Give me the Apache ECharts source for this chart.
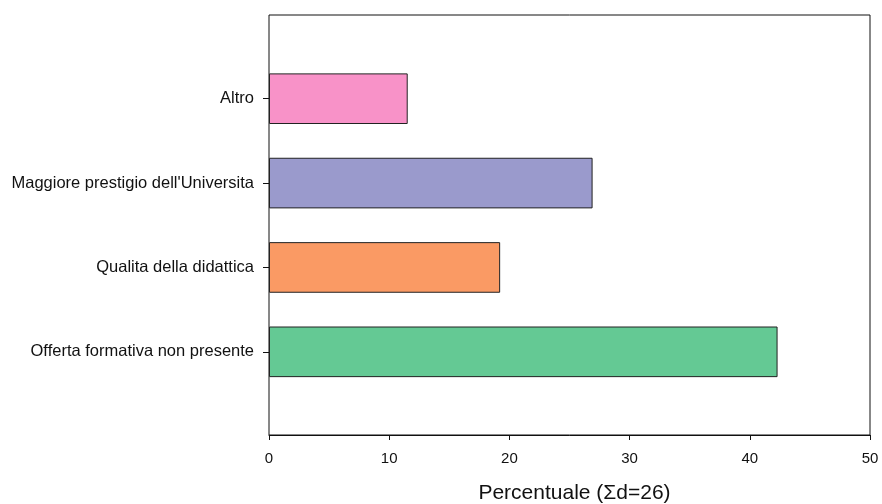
<!DOCTYPE html>
<html>
<head>
<meta charset="utf-8">
<script src="https://cdn.jsdelivr.net/npm/echarts@6/dist/echarts.min.js"></script>
<style>
html,body{margin:0;padding:0;background:#fff;}
#chart{width:882px;height:504px;}
</style>
</head>
<body>
<div id="chart"></div>
<script>
// Data (top to bottom as shown)
var categories = ['Altro', "Maggiore prestigio dell'Universita", 'Qualita della didattica', 'Offerta formativa non presente'];
var values = [11.54, 26.92, 19.23, 42.31];
var barColors = ['#F892C8', '#9A9ACC', '#FA9A64', '#64C994'];
var xTicks = [0, 10, 20, 30, 40, 50];
var xTitle = 'Percentuale (\u03A3d=26)';

var font = 'Liberation Sans, Arial, Helvetica, sans-serif';
var chart = echarts.init(document.getElementById('chart'), null, {renderer: 'canvas'});

var seriesData = values.map(function (v, i) {
  return {value: v, itemStyle: {color: barColors[i]}};
});

chart.setOption({
  backgroundColor: '#fff',
  animation: false,
  grid: [
    {left: 269, right: 12, top: 15, bottom: 69, show: true, borderColor: '#111', borderWidth: 1, backgroundColor: 'transparent', containLabel: false, outerBoundsMode: 'none'},
    {left: 269, right: 12, top: 56.5, bottom: 110, containLabel: false, outerBoundsMode: 'none'}
  ],
  xAxis: [
    {
      gridIndex: 0, type: 'value', min: xTicks[0], max: xTicks[xTicks.length - 1], interval: 10,
      axisLine: {show: true, lineStyle: {color: '#111', width: 1}},
      axisTick: {show: true, length: 5, lineStyle: {color: '#111'}},
      axisLabel: {show: true, fontFamily: font, fontSize: 15, color: '#111', margin: 16},
      splitLine: {show: false},
      name: xTitle, nameLocation: 'middle', nameGap: 48,
      nameTextStyle: {fontFamily: font, fontSize: 21, color: '#111', padding: [0, 0, 0, 10]}
    },
    {
      gridIndex: 1, type: 'value', min: xTicks[0], max: xTicks[xTicks.length - 1],
      show: false
    }
  ],
  yAxis: [
    {gridIndex: 0, type: 'value', show: false, min: 0, max: 1},
    {
      gridIndex: 1, type: 'category', data: categories, inverse: true,
      axisLine: {show: false},
      axisTick: {show: true, alignWithLabel: true, length: 6, lineStyle: {color: '#111'}},
      axisLabel: {fontFamily: font, fontSize: 16.5, color: '#111', margin: 15},
      splitLine: {show: false}
    }
  ],
  series: [
    {
      type: 'bar', xAxisIndex: 1, yAxisIndex: 1,
      data: seriesData, barWidth: '60%',
      itemStyle: {borderColor: '#222', borderWidth: 1}
    }
  ]
});
</script>
</body>
</html>
